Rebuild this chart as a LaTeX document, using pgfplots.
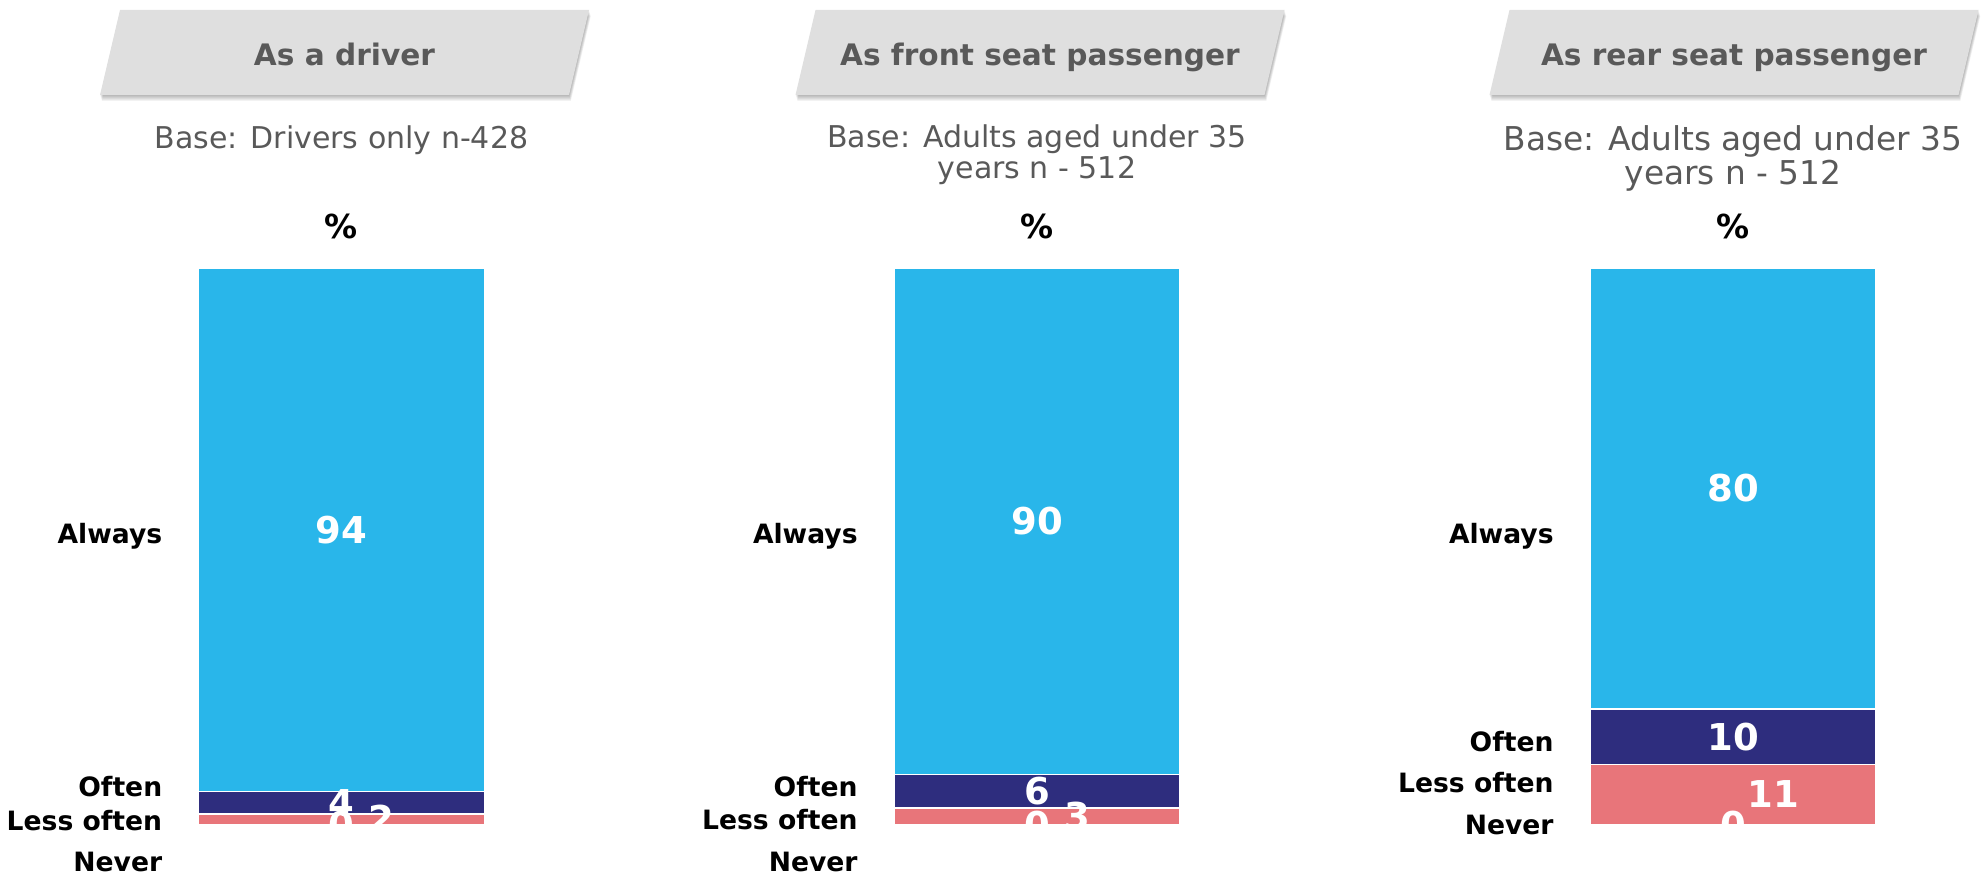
\documentclass[border=0pt]{standalone}
\usepackage{fontspec}
\setmainfont{DejaVu Sans}
\usepackage{pgfplots}
\pgfplotsset{compat=1.18}

\definecolor{always}{RGB}{41,182,234}
\definecolor{often}{RGB}{46,45,126}
\definecolor{lessoften}{RGB}{232,117,122}
\definecolor{tabgray}{RGB}{223,223,223}
\definecolor{txtgray}{RGB}{89,89,89}

\newcommand\fs[1]{\fontsize{#1}{#1}\selectfont}

\pgfplotsset{
  seatbar/.style={
    at={#1}, anchor=north west,
    scale only axis, width=143pt, height=278.5pt,
    xmin=-0.5, xmax=0.5, ymin=0,
    hide axis, clip=false,
    ybar stacked, bar width=143pt,
  },
  seg/.style={fill=#1, draw=white, line width=0.8pt},
}
% text height = cap height of the font, so that "center" is the middle of the caps
\tikzset{
  ctr/.style={text height=#1, text depth=0pt, inner sep=0pt},
  cat/.style={ctr=9.6pt, anchor=east, font=\bfseries\fs{13.3}},
  val/.style={ctr=13.3pt, font=\bfseries\fs{18.5}, text=white},
  head/.style={ctr=10.65pt, font=\bfseries\fs{14.8}, text=txtgray},
  base/.style={ctr=0.72*#1pt, font=\fs{#1}, text=txtgray},
  pct/.style={ctr=11.9pt, font=\bfseries\fs{16.5}},
}

\begin{document}
\begin{tikzpicture}
\begin{scope}[x=0.5pt,y=-0.5pt]
  \path[use as bounding box] (0,0) rectangle (1983,877);
\end{scope}

% As a driver
\begin{axis}[seatbar={(99.3pt,-134pt)}, ymax=100]
  \addplot[seg=white] coordinates {(0,0)};
  \addplot[seg=lessoften] coordinates {(0,2)};
  \addplot[seg=often] coordinates {(0,4)};
  \addplot[seg=always] coordinates {(0,94)};
  \coordinate (A1) at (axis cs:0,53);
  \coordinate (O1) at (axis cs:0,4);
  \coordinate (L1) at (axis cs:0,1);
  \coordinate (N1) at (axis cs:0,0);
  \node[cat] at ([xshift=-18pt]axis cs:-0.5,52.3) {Always};
  \node[cat] at ([xshift=-18pt]axis cs:-0.5,6.8) {Often};
  \node[cat] at ([xshift=-18pt]axis cs:-0.5,0.7) {Less often};
  \node[cat] at ([xshift=-18pt]axis cs:-0.5,-6.6) {Never};
\end{axis}

% As front seat passenger
\begin{axis}[seatbar={(447pt,-134pt)}, ymax=99]
  \addplot[seg=white] coordinates {(0,0)};
  \addplot[seg=lessoften] coordinates {(0,3)};
  \addplot[seg=often] coordinates {(0,6)};
  \addplot[seg=always] coordinates {(0,90)};
  \coordinate (A2) at (axis cs:0,54);
  \coordinate (O2) at (axis cs:0,6);
  \coordinate (L2) at (axis cs:0,1.5);
  \coordinate (N2) at (axis cs:0,0);
  \node[cat] at ([xshift=-18pt]axis cs:-0.5,51.8) {Always};
  \node[cat] at ([xshift=-18pt]axis cs:-0.5,6.75) {Often};
  \node[cat] at ([xshift=-18pt]axis cs:-0.5,0.9) {Less often};
  \node[cat] at ([xshift=-18pt]axis cs:-0.5,-6.6) {Never};
\end{axis}

% As rear seat passenger
\begin{axis}[seatbar={(795pt,-134pt)}, ymax=101]
  \addplot[seg=white] coordinates {(0,0)};
  \addplot[seg=lessoften] coordinates {(0,11)};
  \addplot[seg=often] coordinates {(0,10)};
  \addplot[seg=always] coordinates {(0,80)};
  \coordinate (A3) at (axis cs:0,61);
  \coordinate (O3) at (axis cs:0,16);
  \coordinate (L3) at (axis cs:0,5.5);
  \coordinate (N3) at (axis cs:0,0);
  \node[cat] at ([xshift=-18pt]axis cs:-0.5,52.8) {Always};
  \node[cat] at ([xshift=-18pt]axis cs:-0.5,15.05) {Often};
  \node[cat] at ([xshift=-18pt]axis cs:-0.5,7.6) {Less often};
  \node[cat] at ([xshift=-18pt]axis cs:-0.5,0) {Never};
\end{axis}

% value labels on top of the bars
\node[val] at (A1) {94};
\node[val] at (O1) {4};
\node[val] at ([xshift=20pt]L1) {2};
\node[val] at (N1) {0};
\node[val] at (A2) {90};
\node[val] at (O2) {6};
\node[val] at ([xshift=20pt]L2) {3};
\node[val] at (N2) {0};
\node[val] at (A3) {80};
\node[val] at (O3) {10};
\node[val] at ([xshift=20pt]L3) {11};
\node[val] at (N3) {0};

\begin{scope}[x=0.5pt,y=-0.5pt]
  \foreach \cx in {344.5,1040,1734} {
    % soft shadow: a few offset layers of low opacity
    \foreach \d in {1,2,3,4,5,6} {
      \fill[black, opacity=0.05]
        (\cx-224.5+0.3*\d,10+\d) -- (\cx+244.5+0.3*\d,10+\d)
        -- (\cx+224.5+0.3*\d,95+\d) -- (\cx-244.5+0.3*\d,95+\d) -- cycle;
    }
    \fill[tabgray]
      (\cx-224.5,10) -- (\cx+244.5,10) -- (\cx+224.5,95) -- (\cx-244.5,95) -- cycle;
  }
  \node[head] at (344.5,55) {As a driver};
  \node[head] at (1040,55) {As front seat passenger};
  \node[head] at (1734,55) {As rear seat passenger};

  \node[base=15] at (341.5,138) {Base: Drivers only n-428};
  \node[base=15] at (1037,137) {Base: Adults aged under 35};
  \node[base=15] at (1037,168) {years n - 512};
  \node[base=16.4] at (1733,139) {Base: Adults aged under 35};
  \node[base=16.4] at (1733,173) {years n - 512};

  \node[pct] at (341.5,227) {\%};
  \node[pct] at (1037,227) {\%};
  \node[pct] at (1733,227) {\%};
\end{scope}
\end{tikzpicture}
\end{document}
